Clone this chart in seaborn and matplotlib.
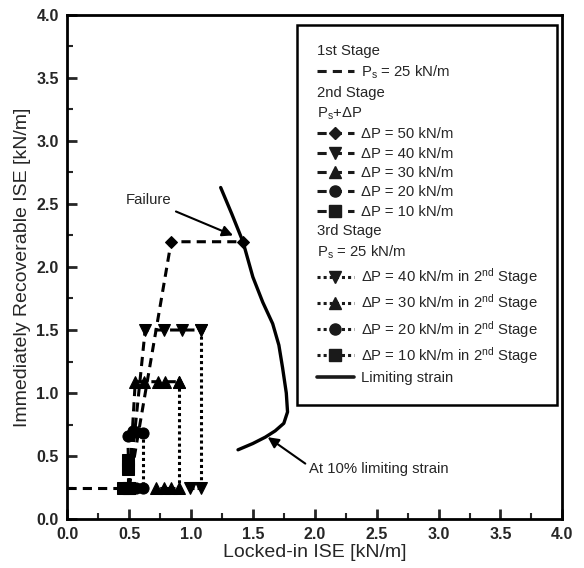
import matplotlib
matplotlib.use('Agg')
import matplotlib.pyplot as plt
import seaborn as sns
import pandas as pd
from matplotlib.lines import Line2D
from matplotlib.ticker import MultipleLocator

sns.set_theme(style='ticks')
plt.rcParams['font.family'] = ['Liberation Sans', 'DejaVu Sans']
plt.rcParams['mathtext.default'] = 'regular'

# 1st stage, Ps = 25 kN/m
stage1_x = [0.0, 0.5]
stage1_y = [0.25, 0.25]

# 2nd stage, Ps + dP
dp50_x = [0.50, 0.84, 1.42]
dp50_y = [0.25, 2.20, 2.20]
dp40_x = [0.50, 0.63, 0.78, 0.93, 1.08]
dp40_y = [0.25, 1.50, 1.50, 1.50, 1.50]
dp30_x = [0.50, 0.55, 0.62, 0.73, 0.79, 0.90]
dp30_y = [0.25, 1.09, 1.09, 1.09, 1.09, 1.09]
dp20_x = [0.50, 0.49, 0.53, 0.56]
dp20_y = [0.25, 0.66, 0.70, 0.69]
dp10_x = [0.50, 0.49, 0.49]
dp10_y = [0.25, 0.40, 0.47]

# 3rd stage, back to Ps = 25 kN/m
un40_x = [1.08, 1.08, 0.99]
un40_y = [1.50, 0.25, 0.25]
un30_x = [0.90, 0.90, 0.84, 0.78, 0.72]
un30_y = [1.09, 0.25, 0.25, 0.25, 0.25]
un20_x = [0.61, 0.61, 0.56, 0.51]
un20_y = [0.68, 0.25, 0.25, 0.25]
un10_x = [0.49, 0.49, 0.45]
un10_y = [0.42, 0.25, 0.25]

# limiting strain curve
lim_x = [1.24, 1.33, 1.42, 1.50, 1.58, 1.66, 1.71, 1.74, 1.77, 1.78, 1.75, 1.68, 1.60, 1.50, 1.38]
lim_y = [2.63, 2.42, 2.20, 1.92, 1.72, 1.55, 1.38, 1.20, 1.00, 0.85, 0.76, 0.70, 0.65, 0.60, 0.55]

dash = (0, (3, 2))
dot = (0, (1, 1))
lw = 2.2

fig = plt.figure(figsize=(5.84, 5.68), dpi=100)
ax = fig.add_axes([0.115, 0.086, 0.848, 0.888])


def draw(x, y, ls, marker=None, ms=8):
    df = pd.DataFrame({'x': x, 'y': y})
    sns.lineplot(data=df, x='x', y='y', ax=ax, sort=False, estimator=None,
                 color='black', linewidth=lw, linestyle=ls, marker=marker,
                 markersize=ms, markeredgecolor='black', legend=False)


draw(stage1_x, stage1_y, dash)
draw(dp50_x, dp50_y, dash, 'D', 6)
draw(dp40_x, dp40_y, dash, 'v')
draw(dp30_x, dp30_y, dash, '^')
draw(dp20_x, dp20_y, dash, 'o')
draw(dp10_x, dp10_y, dash, 's')
draw(un40_x, un40_y, dot, 'v')
draw(un30_x, un30_y, dot, '^')
draw(un20_x, un20_y, dot, 'o')
draw(un10_x, un10_y, dot, 's')
draw(lim_x, lim_y, '-')
ax.lines[-1].set_linewidth(2.4)

ax.set_xlim(0, 4)
ax.set_ylim(0, 4)
ax.xaxis.set_major_locator(MultipleLocator(0.5))
ax.yaxis.set_major_locator(MultipleLocator(0.5))
ax.xaxis.set_minor_locator(MultipleLocator(0.25))
ax.yaxis.set_minor_locator(MultipleLocator(0.25))
ax.tick_params(which='major', direction='in', length=7, width=2, labelsize=11.5, pad=6)
ax.tick_params(which='minor', direction='in', length=4, width=1.5)
for lab in ax.get_xticklabels() + ax.get_yticklabels():
    lab.set_fontweight('bold')
for sp in ax.spines.values():
    sp.set_visible(True)
    sp.set_linewidth(2)
    sp.set_color('black')

ax.set_xlabel('Locked-in ISE [kN/m]', fontsize=14, labelpad=1)
ax.set_ylabel('Immediately Recoverable ISE [kN/m]', fontsize=14, labelpad=4)

ax.annotate('Failure', xy=(1.34, 2.25), xytext=(0.66, 2.53), fontsize=10.7,
            ha='center', va='center',
            arrowprops=dict(arrowstyle='-|>', color='black', lw=1.5,
                            mutation_scale=16, shrinkA=2, shrinkB=0))
ax.annotate('At 10% limiting strain', xy=(1.62, 0.65), xytext=(1.95, 0.40),
            fontsize=10.7, ha='left', va='center',
            arrowprops=dict(arrowstyle='-|>', color='black', lw=1.5,
                            mutation_scale=16, shrinkA=0, shrinkB=0,
                            relpos=(0.0, 0.7)))

blank = Line2D([], [], linestyle='none')
handles = [
    blank,
    Line2D([], [], color='k', lw=lw, ls=dash),
    blank,
    blank,
    Line2D([], [], color='k', lw=lw, ls=dash, marker='D', ms=6),
    Line2D([], [], color='k', lw=lw, ls=dash, marker='v', ms=8),
    Line2D([], [], color='k', lw=lw, ls=dash, marker='^', ms=8),
    Line2D([], [], color='k', lw=lw, ls=dash, marker='o', ms=8),
    Line2D([], [], color='k', lw=lw, ls=dash, marker='s', ms=8),
    blank,
    blank,
    Line2D([], [], color='k', lw=lw, ls=dot, marker='v', ms=8),
    Line2D([], [], color='k', lw=lw, ls=dot, marker='^', ms=8),
    Line2D([], [], color='k', lw=lw, ls=dot, marker='o', ms=8),
    Line2D([], [], color='k', lw=lw, ls=dot, marker='s', ms=8),
    Line2D([], [], color='k', lw=2.6, ls='-'),
]
labels = [
    '1st Stage',
    'P$_s$ = 25 kN/m',
    '2nd Stage',
    'P$_s$+ΔP',
    'ΔP = 50 kN/m',
    'ΔP = 40 kN/m',
    'ΔP = 30 kN/m',
    'ΔP = 20 kN/m',
    'ΔP = 10 kN/m',
    '3rd Stage',
    'P$_s$ = 25 kN/m',
    'ΔP = 40 kN/m in 2$^{nd}$ Stage',
    'ΔP = 30 kN/m in 2$^{nd}$ Stage',
    'ΔP = 20 kN/m in 2$^{nd}$ Stage',
    'ΔP = 10 kN/m in 2$^{nd}$ Stage',
    'Limiting strain',
]
headers = {0, 2, 3, 9, 10}

hlen, hpad, lfs = 2.5, 0.5, 10.7
leg = ax.legend(handles, labels, loc='upper right', bbox_to_anchor=(0.99, 0.98),
                borderaxespad=0, fontsize=lfs, frameon=True, fancybox=False,
                edgecolor='black', framealpha=1, handlelength=hlen,
                handletextpad=hpad, labelspacing=0.36, borderpad=1.3)
leg.get_frame().set_linewidth(1.8)
shift = (hlen + hpad) * lfs * fig.dpi / 72
for i, t in enumerate(leg.get_texts()):
    if i in headers:
        t.set_x(-shift)

fig.savefig('out.png', dpi=100)
